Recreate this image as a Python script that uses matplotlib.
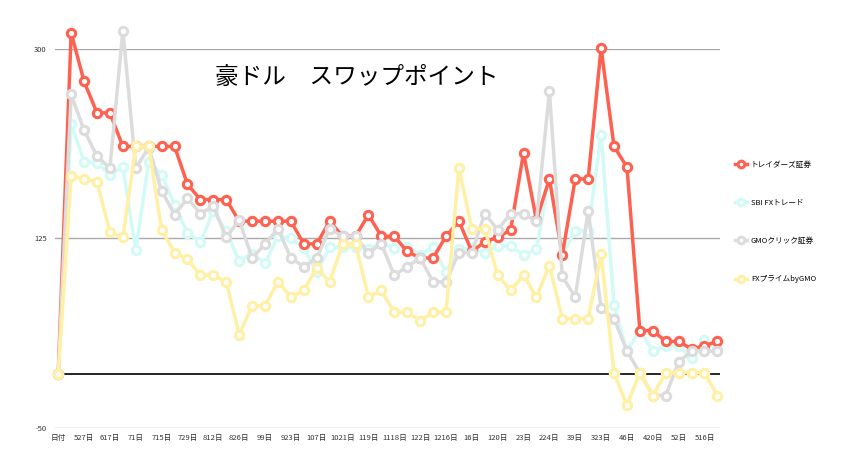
import matplotlib
matplotlib.use("Agg")
import matplotlib.pyplot as plt

plt.rcParams["font.family"] = ["Noto Sans CJK JP", "DejaVu Sans"]

tick_labels = ["日付", "527日", "617日", "71日", "715日", "729日", "812日", "826日", "99日", "923日",
               "107日", "1021日", "119日", "1118日", "122日", "1216日", "16日", "120日", "23日",
               "224日", "39日", "323日", "46日", "420日", "52日", "516日"]

red = [0, 315, 270, 241, 241, 210, 210, 210, 210, 210, 175, 161, 161, 161, 141, 141, 141, 141,
       141, 120, 120, 141, 127, 127, 147, 127, 127, 113, 107, 107, 127, 141, 113, 122, 126, 133,
       204, 142, 180, 110, 180, 180, 301, 210, 191, 40, 40, 30, 30, 23, 26, 30]
cyan = [0, 231, 196, 195, 184, 191, 114, 196, 184, 156, 130, 122, 150, 132, 104, 111, 102, 127,
        125, 116, 94, 117, 117, 117, 115, 121, 116, 117, 110, 117, 94, 115, 116,
        112, 118, 118, 110, 115, 181, 110, 132, 132, 221, 64, 21, 40, 21, 26, 26, 15, 31, 23]
gray = [0, 258, 225, 201, 190, 317, 190, 209, 169, 147, 162, 148, 155, 126, 142, 107, 120, 134,
        107, 99, 107, 134, 127, 127, 112, 120, 91, 99, 107, 85, 85, 112, 112, 148, 133, 148,
        148, 141, 261, 90, 71, 150, 61, 51, 21, 1, -20, -20, 11, 21, 21, 21]
yellow = [0, 183, 180, 177, 131, 126, 210, 210, 133, 112, 106, 91, 91, 85, 36, 63, 63, 85,
          71, 77, 98, 85, 120, 120, 71, 77, 57, 57, 49, 57, 57, 190, 134, 134, 91, 77, 91, 71,
          100, 51, 51, 51, 111, 1, -29, 1, -20, 1, 1, 1, 1, -20]

names = ["トレイダーズ証券", "SBI FXトレード", "GMOクリック証券", "FXプライムbyGMO"]
colors = ["#FF6150", "#D2FAF6", "#DCDCDC", "#FFF0A6"]
series = [red, cyan, gray, yellow]

fig = plt.figure(figsize=(8.49, 4.75), dpi=100)
ax = fig.add_axes([55/849, 1-428/475, (720-55)/849, (428-49)/475])
ax.set_xlim(-0.25, 51.2)
ax.set_ylim(-50, 300)
for s in ax.spines.values():
    s.set_visible(False)
for yv in (-50, 125, 300):
    ax.axhline(yv, color="#AAAAAA", lw=1, zorder=0)
ax.axhline(0, color="black", lw=1.2, zorder=0)

x = list(range(52))
for name, c, s, z in zip(names, colors, series, [3, 2, 4, 5]):
    ax.plot(x, s, color=c, lw=2.5, marker="o", ms=6, mfc="white", mec=c, mew=2.2,
            label=name, zorder=z, clip_on=False)

ax.set_yticks([-50, 125, 300])
ax.set_yticklabels(["-50", "125", "300"], fontsize=5.5, color="#333333")
ax.set_xticks(list(range(0, 52, 2)))
ax.set_xticklabels(tick_labels, fontsize=5.5, color="#333333")
ax.tick_params(length=0, pad=4)
ax.tick_params(axis="y", pad=6)

fig.text(357/849, 1-77/475, "豪ドル　スワップポイント", fontsize=17, ha="center", va="center")

leg = fig.legend(loc="center left", bbox_to_anchor=(728/849, 1-222/475), frameon=False,
                 fontsize=5.5, labelspacing=3.95, handlelength=1.6, handletextpad=0.5,
                 markerscale=0.8)
fig.savefig("out.png", dpi=100, facecolor="white")
